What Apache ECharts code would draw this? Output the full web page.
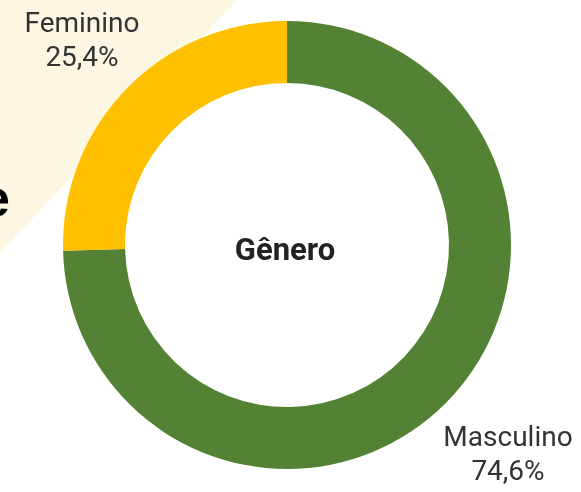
<!DOCTYPE html>
<html>
<head>
<meta charset="utf-8">
<script src="https://cdn.jsdelivr.net/npm/echarts@6/dist/echarts.min.js"></script>
<style>
html,body{margin:0;padding:0;background:#fff;}
#c{width:581px;height:492px;}
</style>
</head>
<body>
<div id="c"></div>
<script>
const categories = ['Masculino', 'Feminino'];
const values = [74.6, 25.4];
const colors = ['#548235', '#FFC000'];
const centerTitle = 'Gênero';

const chart = echarts.init(document.getElementById('c'), null, {renderer: 'canvas'});
const labelPos = {
  Masculino: {x: 508, y: 456},
  Feminino: {x: 82, y: 42}
};
chart.setOption({
  backgroundColor: '#ffffff',
  animation: false,
  graphic: [
    {type: 'polygon', z: -10, silent: true,
     shape: {points: [[0, 0], [237, 0], [0, 253]]},
     style: {fill: '#fdf6e2'}},
    {type: 'text', z: 5, silent: true, x: 10, y: 176,
     style: {text: 'e', x: 0, y: 0, textAlign: 'right', textVerticalAlign: 'alphabetic',
             font: 'bold 52px "Liberation Sans", Arial, sans-serif', fill: '#000'}},
    {type: 'text', z: 5, silent: true, x: 285, y: 252,
     style: {text: centerTitle, textAlign: 'center', textVerticalAlign: 'middle',
             font: 'bold 31px Roboto, sans-serif', fill: '#222'}}
  ],
  series: [{
    type: 'pie',
    center: [287, 245],
    radius: [162, 224],
    startAngle: 90,
    clockwise: true,
    silent: true,
    data: categories.map((c, i) => ({name: c, value: values[i], itemStyle: {color: colors[i]}})),
    label: {
      show: true,
      position: 'outside',
      overflow: 'none',
      formatter: p => p.name + '\n' + p.value.toFixed(1).replace('.', ',') + '%',
      fontFamily: 'Roboto',
      fontSize: 28,
      lineHeight: 34,
      color: '#333',
      align: 'center'
    },
    labelLine: {show: false},
    labelLayout: function (params) {
      const n = categories[params.dataIndex];
      return {x: labelPos[n].x, y: labelPos[n].y, align: 'center', verticalAlign: 'middle'};
    }
  }]
});
</script>
</body>
</html>
